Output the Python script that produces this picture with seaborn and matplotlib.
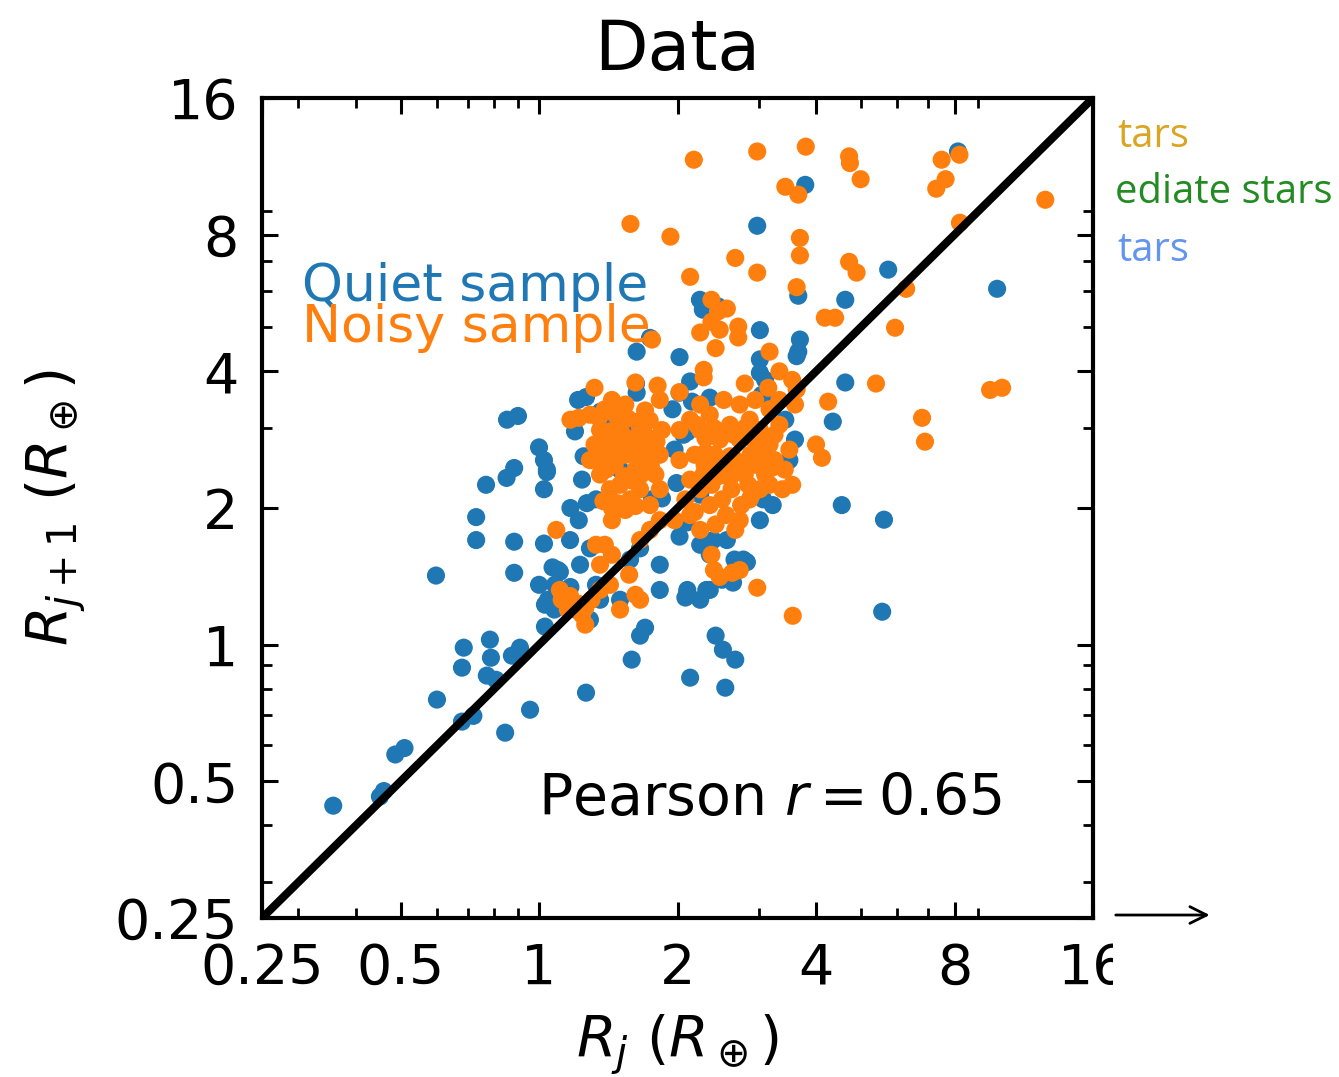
import matplotlib
matplotlib.use("Agg")
import matplotlib.pyplot as plt
import seaborn as sns
import pandas as pd
from matplotlib.ticker import NullFormatter

# radii of adjacent planets, R_j and R_j+1 (Earth radii)
quiet_rj = [0.357, 0.451, 0.46, 0.487, 0.51, 0.6, 0.68, 0.72, 0.68, 0.686,
            0.597, 0.782, 0.786, 0.806, 0.77, 0.844, 0.873, 0.909, 0.956, 1.03,
            1.046, 1.083, 1.11, 1.265, 1.59, 1.658, 1.7, 2.13, 2.54, 2.42,
            2.51, 2.67, 2.08, 2.1, 2.35, 0.73, 0.73, 0.767, 0.85, 0.883,
            0.852, 0.9, 1.0, 1.025, 1.04, 1.025, 0.883, 1.025, 0.883, 1.1,
            1.197, 1.216, 1.265, 1.36, 1.385, 1.625, 1.63, 1.743, 2.237, 2.27,
            2.45, 2.98, 3.02, 3.66, 3.66, 3.79, 4.63, 4.63, 4.55, 5.62,
            5.57, 5.74, 9.9, 8.14, 3.1, 3.05, 3.17, 3.43, 3.6, 3.5,
            3.22, 2.78, 2.5, 2.66, 2.24, 2.35, 1.83, 3.02, 1.357, 1.33,
            1.577, 1.658, 1.228, 1.29, 1.168, 1.22, 1.33, 1.76, 1.85, 2.15,
            2.13, 1.54, 2.06, 2.35, 1.97, 1.5, 2.24, 1.24, 1.03, 1.2,
            1.29, 1.5, 1.83, 2.24, 2.02, 1.63, 2.02, 1.95, 2.1, 1.99,
            3.02, 3.63, 4.35, 3.07, 2.39, 2.56, 2.83, 2.64, 2.31, 2.1,
            2.02, 2.1, 1.17, 1.07, 1.17, 1.27, 1.25, 1.04, 1.0, 1.08,
            3.02, 3.69]
quiet_rj1 = [0.442, 0.463, 0.476, 0.573, 0.592, 0.757, 0.677, 0.697, 0.89, 0.985,
             1.42, 1.026, 0.936, 0.837, 0.855, 0.64, 0.946, 0.985, 0.719, 1.096,
             1.256, 1.355, 1.447, 0.784, 0.927, 1.047, 1.09, 0.846, 0.804, 1.047,
             0.975, 0.927, 1.27, 1.32, 1.32, 1.91, 1.7, 2.25, 2.33, 2.45,
             3.13, 3.19, 2.72, 2.55, 2.43, 2.2, 1.686, 1.67, 1.44, 1.46,
             2.95, 3.46, 3.51, 3.26, 3.13, 3.76, 4.42, 4.74, 5.75, 5.47,
             5.56, 8.37, 4.25, 5.87, 4.42, 10.3, 5.75, 3.78, 2.03, 1.885,
             1.182, 6.7, 6.08, 12.2, 3.83, 3.55, 3.38, 3.13, 2.83, 2.55,
             2.03, 1.54, 1.39, 1.54, 1.66, 1.58, 1.5, 1.88, 1.256, 1.355,
             1.54, 1.63, 1.5, 1.63, 1.7, 1.88, 2.09, 2.09, 2.1, 3.43,
             3.8, 2.97, 2.9, 3.5, 2.69, 2.43, 2.14, 2.31, 1.225, 1.195,
             1.135, 1.256, 1.32, 1.256, 4.3, 3.59, 3.59, 3.3, 2.94, 2.27,
             3.97, 4.32, 3.1, 2.09, 1.7, 1.7, 1.52, 1.37, 1.32, 1.3,
             1.73, 1.86, 1.34, 1.48, 2.0, 2.05, 2.6, 2.4, 1.355, 1.195,
             4.93, 4.7]

noisy_rj = [2.17, 2.98, 3.8, 4.72, 4.74, 5.0, 3.43, 3.66, 7.5, 7.65,
            7.3, 8.2, 12.6, 1.58, 1.93, 2.13, 2.67, 2.98, 3.69, 3.69,
            3.63, 4.72, 4.9, 4.18, 4.4, 6.28, 5.94, 8.22, 2.37, 2.45,
            2.37, 2.24, 2.47, 2.71, 2.71, 2.42, 3.17, 3.33, 2.56, 1.76,
            1.32, 1.62, 1.81, 2.02, 2.28, 2.28, 2.8, 3.15, 3.55, 3.63,
            4.25, 5.4, 6.8, 6.9, 9.56, 10.15, 4.0, 4.12, 3.55, 3.6,
            1.17, 1.22, 1.29, 1.09, 1.11, 1.12, 1.168, 1.155, 1.22, 1.26,
            1.3, 1.357, 1.426, 1.26, 1.24, 1.33, 1.39, 1.357, 1.44, 1.44,
            1.44, 1.658, 1.743, 1.83, 1.97, 2.13, 2.24, 2.37, 2.4, 2.47,
            2.63, 2.73, 2.98, 3.56, 2.73, 2.87, 3.02, 3.17, 1.5, 1.658,
            1.62, 1.57,
            1.357, 1.426, 1.5, 1.577, 1.658, 1.743, 1.39, 1.46, 1.54, 1.62,
            1.7, 1.79, 1.357, 1.426, 1.5, 1.577, 1.658, 1.743, 1.32, 1.83,
            1.85, 1.7, 1.54, 1.44, 1.35, 1.6, 1.68, 1.49, 1.4, 1.83,
            1.29, 1.83,
            1.39, 1.47, 1.56, 1.64, 1.74, 1.43, 1.52, 1.61, 1.71, 1.8,
            1.36, 1.45, 1.53, 1.66, 1.75, 1.59, 1.38, 1.48, 1.62, 1.54,
            2.13, 2.24, 2.35, 2.47, 2.6, 2.73, 2.87, 3.02, 3.17, 3.33,
            2.18, 2.29, 2.41, 2.54, 2.67, 2.8, 2.95, 3.1, 3.25, 2.13,
            2.24, 2.37, 2.5, 2.62, 2.75, 2.9, 2.08, 2.18, 2.35, 2.55,
            2.67, 2.42, 3.33, 3.17, 2.95, 2.73, 2.52, 2.24, 2.02, 2.02,
            3.42, 3.5, 3.38,
            2.2, 2.3, 2.4, 2.52, 2.65, 2.8, 2.95, 3.1, 3.25, 2.3,
            2.45, 2.6, 2.75, 2.88, 3.05, 3.2, 2.28, 2.45, 2.6, 2.85]
noisy_rj1 = [11.7, 12.2, 12.5, 11.9, 11.5, 10.6, 10.2, 9.8, 11.7, 10.6,
             10.1, 12.0, 9.55, 8.45, 7.92, 6.46, 7.11, 6.6, 7.87, 7.2,
             6.13, 6.97, 6.6, 5.25, 5.25, 6.08, 4.99, 8.5, 5.75, 5.42,
             5.14, 4.87, 4.94, 5.02, 4.75, 4.5, 4.42, 4.0, 5.5, 4.7,
             3.68, 3.78, 3.72, 3.6, 4.03, 3.88, 3.76, 3.68, 3.83, 3.65,
             3.43, 3.76, 3.16, 2.8, 3.64, 3.68, 2.76, 2.58, 2.25, 3.38,
             3.13, 3.16, 3.21, 1.79, 1.32, 1.256, 1.28, 1.195, 1.23, 1.205,
             1.256, 1.32, 1.355, 1.107, 1.164, 1.66, 1.66, 1.5, 1.578, 1.88,
             2.0, 1.7, 1.79, 1.88, 1.88, 1.93, 1.79, 1.578, 1.46, 1.41,
             1.44, 1.46, 1.335, 1.158, 1.88, 2.09, 2.2, 2.25, 1.195, 1.256,
             1.288, 1.426,
             2.97, 2.83, 3.05, 2.83, 2.97, 2.76, 2.62, 2.49, 2.62, 2.43,
             2.55, 2.37, 2.37, 2.2, 2.25, 2.09, 2.2, 2.03, 2.76, 2.62,
             2.97, 3.28, 3.38, 3.46, 3.16, 2.62, 2.76, 2.72, 2.43, 2.2,
             2.55, 3.46,
             3.3, 3.2, 3.15, 3.1, 3.12, 2.95, 2.9, 2.78, 2.88, 2.8,
             2.5, 2.65, 2.35, 2.36, 2.48, 2.3, 2.07, 2.05, 2.02, 1.98,
             3.13, 2.97, 3.21, 2.83, 3.05, 2.83, 3.13, 2.97, 2.76, 3.05,
             2.62, 2.49, 2.62, 2.43, 2.55, 2.37, 2.49, 2.37, 2.55, 2.31,
             2.2, 2.25, 2.09, 2.2, 2.03, 2.14, 2.09, 1.96, 2.03, 1.93,
             1.79, 1.84, 3.46, 3.3, 3.46, 3.38, 3.46, 3.38, 2.97, 2.55,
             2.43, 2.69, 2.2,
             3.05, 2.85, 3.0, 2.95, 2.9, 3.0, 2.8, 2.85, 2.9, 2.65,
             2.55, 2.6, 2.5, 2.62, 2.6, 2.45, 2.38, 2.35, 2.33, 2.25]

tick_vals = [0.25, 0.5, 1, 2, 4, 8, 16]
tick_labels = ['0.25', '0.5', '1', '2', '4', '8', '16']
minor_vals = [0.3, 0.4, 0.6, 0.7, 0.8, 0.9, 3, 5, 6, 7, 9]
pearson_r = 0.65
blue = '#1f77b4'
orange = '#ff7f0e'

df = pd.concat([
    pd.DataFrame({'rj': quiet_rj, 'rj1': quiet_rj1, 'sample': 'Quiet'}),
    pd.DataFrame({'rj': noisy_rj, 'rj1': noisy_rj1, 'sample': 'Noisy'}),
], ignore_index=True)

sns.set_style("ticks")
plt.rcParams['font.family'] = ['DejaVu Sans']
plt.rcParams['mathtext.fontset'] = 'dejavusans'
plt.rcParams['axes.edgecolor'] = 'black'
plt.rcParams['text.color'] = 'black'
plt.rcParams['axes.labelcolor'] = 'black'

fig = plt.figure(figsize=(13.39, 10.77), dpi=100)
ax = fig.add_axes([0.1957, 0.1476, 0.6206, 0.7614])

sns.scatterplot(data=df, x='rj', y='rj1', hue='sample', palette=[blue, orange],
                s=170, linewidth=0, legend=False, ax=ax, zorder=1)
ax.set_xscale('log', base=2)
ax.set_yscale('log', base=2)
ax.plot([tick_vals[0], tick_vals[-1]], [tick_vals[0], tick_vals[-1]],
        color='black', lw=5.8, zorder=3)
ax.set_xlim(tick_vals[0], tick_vals[-1])
ax.set_ylim(tick_vals[0], tick_vals[-1])

ax.set_xticks(tick_vals, labels=tick_labels)
ax.set_yticks(tick_vals, labels=tick_labels)
ax.set_xticks(minor_vals, minor=True)
ax.set_yticks(minor_vals, minor=True)
ax.xaxis.set_minor_formatter(NullFormatter())
ax.yaxis.set_minor_formatter(NullFormatter())
ax.tick_params(which='both', direction='in', top=True, right=True, colors='black')
ax.tick_params(which='major', length=11.5, width=2.2, labelsize=40, pad=17)
ax.tick_params(which='minor', length=7, width=2)
for s in ax.spines.values():
    s.set_linewidth(3)
    s.set_color('black')

ax.text(0.048, 0.77, 'Quiet sample', color=blue, fontsize=37.5,
        transform=ax.transAxes, va='center')
ax.text(0.048, 0.72, 'Noisy sample', color=orange, fontsize=37.5,
        transform=ax.transAxes, va='center')
ax.text(0.332, 0.144, r'Pearson $r = %.2f$' % pearson_r, fontsize=41,
        transform=ax.transAxes, va='center')

ax.set_title('Data', fontsize=50, pad=20)
ax.set_xlabel(r'$R_j\ (R_\oplus)$', fontsize=41, labelpad=12)
ax.set_ylabel(r'$R_{j+1}\ (R_\oplus)$', fontsize=41, labelpad=20)

# neighbouring panel, cut off at the right edge
ax2 = fig.add_axes([0.8312, 0.0, 0.1688, 1.0], zorder=5)
ax2.set_facecolor('white')
ax2.set_xticks([])
ax2.set_yticks([])
for s in ax2.spines.values():
    s.set_visible(False)
for label, c, xl, yb in [('tars', '#DAA520', 0.018, 0.8635),
                         ('ediate stars', '#228B22', 0.009, 0.8115),
                         ('tars', '#6495ED', 0.018, 0.7577)]:
    ax2.text(xl, yb, label, color=c, fontsize=28.8, family=['Open Sans', 'DejaVu Sans'],
             ha='left', va='baseline', transform=ax2.transAxes, clip_on=True)
ax2.annotate('', xy=(0.44, 0.1504), xytext=(0.0, 0.1504), xycoords='axes fraction',
             arrowprops=dict(arrowstyle='->', color='black', lw=2, mutation_scale=30))

fig.savefig('out.png', dpi=100)
